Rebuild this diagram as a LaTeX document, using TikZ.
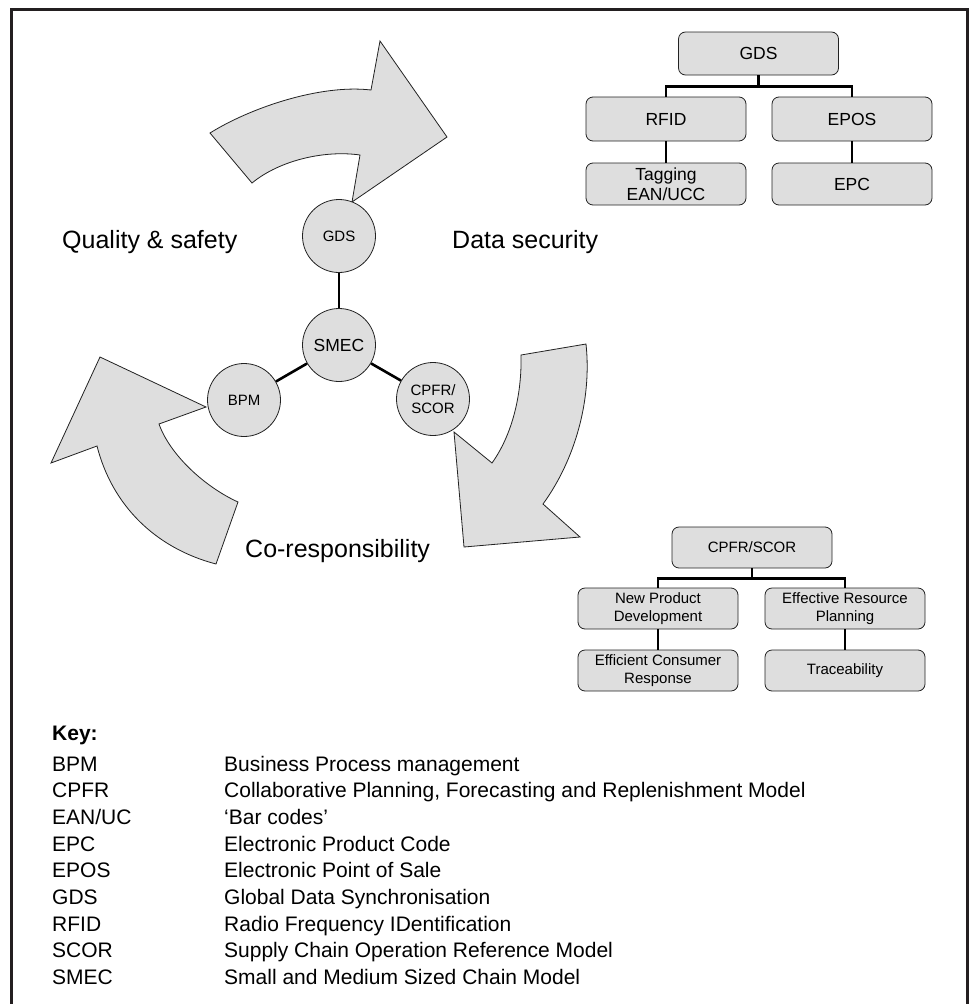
\documentclass[tikz,border=0pt]{standalone}
\usepackage{fontspec}
\setmainfont{Liberation Sans}
\usetikzlibrary{calc}
\definecolor{shapefill}{HTML}{DEDEDE}
\definecolor{linec}{HTML}{222222}
\definecolor{framec}{HTML}{231F20}
\begin{document}
\begin{tikzpicture}[x=1pt,y=-1pt,
  circ/.style={circle, draw=linec, fill=shapefill, line width=0.8pt, minimum size=73pt, inner sep=0pt, align=center, font=\fontsize{15}{18}\selectfont},
  tbox/.style={rectangle, rounded corners=7pt, draw=linec, fill=shapefill, line width=0.8pt, minimum width=160pt, minimum height=43pt, inner sep=0pt, align=center, font=\fontsize{17.5}{20}\selectfont},
  sbox/.style={tbox, minimum height=41pt, font=\fontsize{15}{18}\selectfont},
  conn/.style={draw=black, line width=2.6pt},
  bigarrow/.style={draw=linec, fill=shapefill, line width=0.8pt, line join=miter},
  biglabel/.style={anchor=base west, inner sep=0pt, font=\fontsize{25}{30}\selectfont},
  keyl/.style={anchor=base west, inner sep=0pt, font=\fontsize{21}{25}\selectfont},
]
\useasboundingbox (0,0) rectangle (970,1004);
% frame
\draw[framec, line width=3pt] (11.5,1004) -- (11.5,9.5) -- (967.5,9.5) -- (967.5,1004);

% big arrows
\draw[bigarrow] (210,133) .. controls (250,108) and (320,84) .. (371,90) -- (380,41) -- (447,137) -- (352,202) -- (360,155) .. controls (325,150) and (280,160) .. (252,183) -- cycle;
\draw[bigarrow] (100,357) -- (51,463) -- (97,446) .. controls (112,505) and (155,548) .. (216,564) -- (238,502) .. controls (205,487) and (170,455) .. (159,424) -- (206,407) -- cycle;
\draw[bigarrow] (521,355) -- (586,344) .. controls (592,400) and (575,460) .. (543,504) -- (580,537) -- (464,547) -- (454,432) -- (492,463) .. controls (512,435) and (522,395) .. (521,355) -- cycle;

% circles
\node[circ] (gdsc) at (339,236) {GDS};
\node[circ, font=\fontsize{17.5}{21}\selectfont] (smec) at (339,345) {SMEC};
\node[circ] (bpm) at (244,400) {BPM};
\node[circ] (cpfr) at (433,399) {CPFR/\\SCOR};
\draw[line width=2.6pt] (gdsc) -- (smec);
\draw[line width=2.6pt] (smec) -- (bpm);
\draw[line width=2.6pt] (smec) -- (cpfr);

% labels
\node[biglabel] (qs) at (62,248) {Quality \& safety};
\node[biglabel] (ds) at (452,248) {Data security};
\node[biglabel] (cr) at (245,557) {Co-responsibility};

% top tree
\node[tbox] (tgds) at (758.5,53.5) {GDS};
\node[tbox, minimum height=44pt] (rfid) at (666,119) {RFID};
\node[tbox, minimum height=44pt] (epos) at (852,119) {EPOS};
\node[tbox, minimum height=42pt] (tag) at (666,184) {Tagging\\EAN/UCC};
\node[tbox, minimum height=42pt] (epc) at (852,184) {EPC};
\draw[conn] (tgds.south) -- ++(0,11);
\draw[conn] (rfid.north) |- ($(tgds.south)+(0,11)$) -| (epos.north);
\draw[conn] (rfid) -- (tag);
\draw[conn] (epos) -- (epc);

% bottom tree
\node[sbox] (bcp) at (752,547.5) {CPFR/SCOR};
\node[sbox] (npd) at (658,608.5) {New Product\\Development};
\node[sbox] (erp) at (845,608.5) {Effective Resource\\Planning};
\node[sbox] (ecr) at (658,670.5) {Efficient Consumer\\Response};
\node[sbox] (trc) at (845,670.5) {Traceability};
\draw[conn] (bcp.south) -- ++(0,10);
\draw[conn] (npd.north) |- ($(bcp.south)+(0,10)$) -| (erp.north);
\draw[conn] (npd) -- (ecr);
\draw[conn] (erp) -- (trc);

% key
\node[keyl, font=\bfseries\fontsize{21}{25}\selectfont] (key) at (52,740) {Key:};
\node[keyl] (k1) at (52,771) {BPM};
\node[keyl] (d1) at (224,771) {Business Process management};
\node[keyl] (k2) at (52,797.7) {CPFR};
\node[keyl] (d2) at (224,797.7) {Collaborative Planning, Forecasting and Replenishment Model};
\node[keyl] (k3) at (52,824.3) {EAN/UC};
\node[keyl] (d3) at (224,824.3) {‘Bar codes’};
\node[keyl] (k4) at (52,851) {EPC};
\node[keyl] (d4) at (224,851) {Electronic Product Code};
\node[keyl] (k5) at (52,877.7) {EPOS};
\node[keyl] (d5) at (224,877.7) {Electronic Point of Sale};
\node[keyl] (k6) at (52,904.3) {GDS};
\node[keyl] (d6) at (224,904.3) {Global Data Synchronisation};
\node[keyl] (k7) at (52,931) {RFID};
\node[keyl] (d7) at (224,931) {Radio Frequency IDentification};
\node[keyl] (k8) at (52,957.7) {SCOR};
\node[keyl] (d8) at (224,957.7) {Supply Chain Operation Reference Model};
\node[keyl] (k9) at (52,984.3) {SMEC};
\node[keyl] (d9) at (224,984.3) {Small and Medium Sized Chain Model};
\end{tikzpicture}
\end{document}
